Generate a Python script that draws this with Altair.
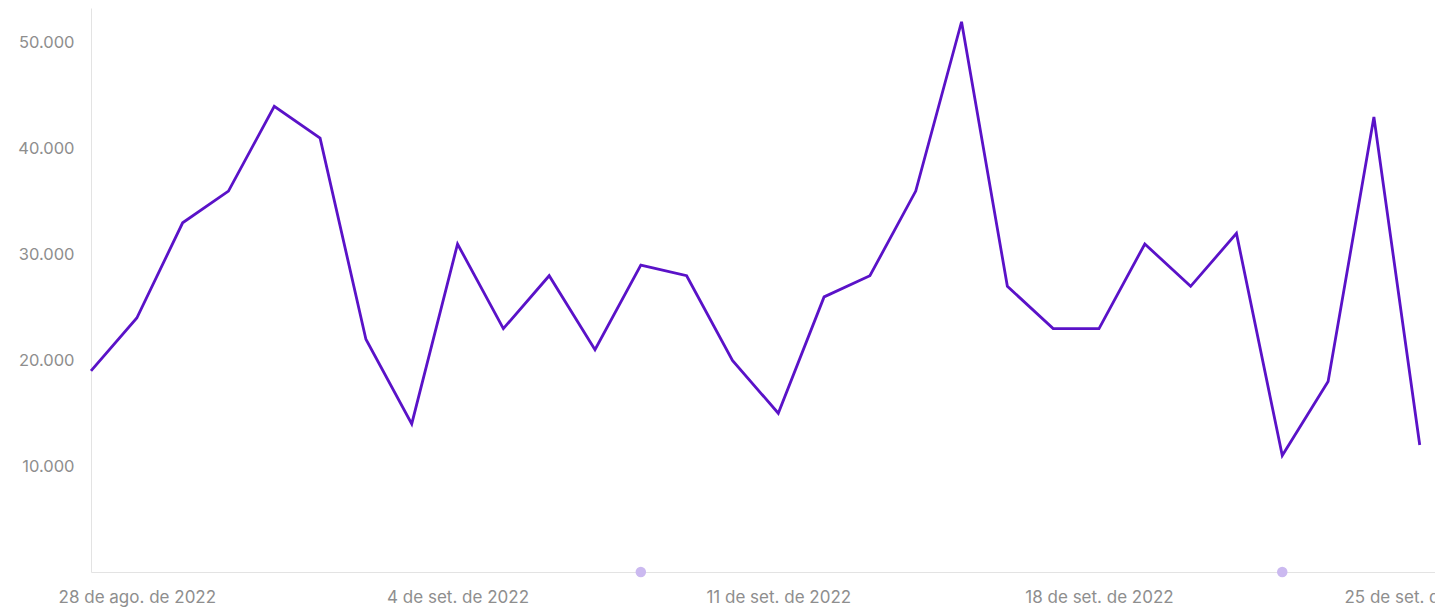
import altair as alt
import pandas as pd

dates = pd.date_range("2022-08-27", "2022-09-25", freq="D").strftime("%Y-%m-%d").tolist()
values = [19000, 24000, 33000, 36000, 44000, 41000, 22000, 14000, 31000, 23000,
          28000, 21000, 29000, 28000, 20000, 15000, 26000, 28000, 36000, 52000,
          27000, 23000, 23000, 31000, 27000, 32000, 11000, 18000, 43000, 12000]
marker_dates = ["2022-09-08", "2022-09-22"]
tick_dates = [(2022, 8, 28), (2022, 9, 4), (2022, 9, 11), (2022, 9, 18), (2022, 9, 25)]
y_ticks = [10000, 20000, 30000, 40000, 50000]

df = pd.DataFrame({"date": dates, "value": values})
mk = pd.DataFrame({"date": marker_dates, "value": [0] * len(marker_dates)})

FONT = "Inter"
LABEL_COLOR = "#8e8e8e"
month_expr = "['jan.','fev.','mar.','abr.','mai.','jun.','jul.','ago.','set.','out.','nov.','dez.']"

x_scale = alt.Scale(
    type="utc",
    domain=[alt.DateTime(year=2022, month=8, date=27, utc=True),
            alt.DateTime(year=2022, month=9, date=25, hours=8, utc=True)],
)
y_scale = alt.Scale(domain=[0, 53300], nice=False, zero=True)

x_axis = alt.Axis(
    title=None,
    values=[alt.DateTime(year=y, month=m, date=d, utc=True) for (y, m, d) in tick_dates],
    labelExpr="utcdate(datum.value) + ' de ' + " + month_expr + "[utcmonth(datum.value)] + ' de ' + utcyear(datum.value)",
    ticks=False, grid=False, labelFlush=False, labelOverlap=False,
    domainColor="#e3e3e3", domainWidth=1,
    labelFont=FONT, labelFontSize=17, labelColor=LABEL_COLOR, labelPadding=17,
)
y_axis = alt.Axis(
    title=None,
    values=y_ticks,
    labelExpr="replace(format(datum.value, ','), ',', '.')",
    ticks=False, grid=False,
    domainColor="#e3e3e3", domainWidth=1,
    labelFont=FONT, labelFontSize=16.5, labelColor=LABEL_COLOR, labelPadding=17,
)

line = alt.Chart(df).mark_line(color="#5a12c8", strokeWidth=2.8).encode(
    x=alt.X("date:T", scale=x_scale, axis=x_axis),
    y=alt.Y("value:Q", scale=y_scale, axis=y_axis),
)
dots = alt.Chart(mk).mark_circle(color="#cbb9f0", opacity=1, size=110).encode(
    x=alt.X("date:T", scale=x_scale),
    y=alt.Y("value:Q", scale=y_scale),
)

chart = alt.layer(line, dots).properties(
    width=1344, height=564,
    autosize=alt.AutoSizeParams(type="none"),
    padding={"left": 83, "top": 0, "right": 0, "bottom": 40},
).configure_view(stroke=None)

chart.save("out.html", embed_options={"renderer": "svg", "actions": False})
